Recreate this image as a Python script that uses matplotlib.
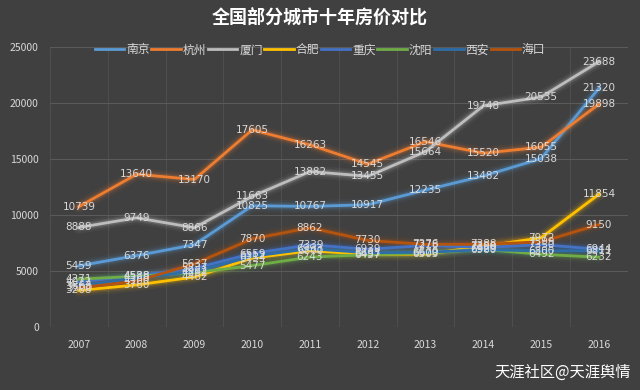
import numpy as np
import matplotlib.pyplot as plt

plt.rcParams['font.family'] = ['Noto Sans CJK SC', 'DejaVu Sans']

years = ['2007', '2008', '2009', '2010', '2011', '2012', '2013', '2014', '2015', '2016']
cities = ['南京', '杭州', '厦门', '合肥', '重庆', '沈阳', '西安', '海口']
colors = ['#5B9BD5', '#ED7D31', '#BDBDBD', '#FFC000', '#4472C4', '#70AD47', '#2E6DA8', '#B5540F']

nanjing = [5459, 6376, 7347, 10825, 10767, 10917, 12235, 13482, 15038, 21320]
hangzhou = [10739, 13640, 13170, 17605, 16263, 14545, 16546, 15520, 16055, 19898]
xiamen = [8888, 9749, 8866, 11663, 13882, 13455, 15664, 19748, 20535, 23688]
hefei = [3268, 3760, 4462, 6154, 6800, 6497, 6503, 7200, 7972, 11854]
chongqing = [4022, 4588, 5237, 6559, 7339, 6939, 7278, 7100, 7350, 6944]
shenyang = [4271, 4528, 4862, 5477, 6243, 6457, 6600, 6929, 6492, 6232]
xian = [3663, 4368, 4962, 6312, 6993, 6633, 6670, 6900, 6800, 6811]
haikou = [3500, 4100, 5637, 7870, 8862, 7730, 7376, 7388, 7599, 9150]

series = [nanjing, hangzhou, xiamen, hefei, chongqing, shenyang, xian, haikou]

bg = '#404040'
fig = plt.figure(figsize=(6.4, 3.9), dpi=100, facecolor=bg)
ax = fig.add_axes([0.078, 0.1615, 0.903, 0.718], facecolor=bg)

x = np.arange(len(years))
for name, vals, c in zip(cities, series, colors):
    # soft glow under the line
    for w, a in [(9, 0.06), (6, 0.1), (4, 0.18)]:
        ax.plot(x, vals, color=c, lw=w, alpha=a, solid_capstyle='round', zorder=2)
    ax.plot(x, vals, color=c, lw=2, label=name, zorder=3)

for vals in series:
    for xi, v in zip(x, vals):
        ax.text(xi, v, str(v), ha='center', va='center', fontsize=7.5,
                color='#D9D9D9', zorder=4, family='DejaVu Sans')

ax.set_xlim(-0.5, 9.5)
ax.set_ylim(0, 25000)
ax.set_yticks(range(0, 25001, 5000))
ax.set_xticks(x)
ax.set_xticklabels(years)
ax.set_xticks(np.arange(-0.5, 10, 1), minor=True)
ax.grid(axis='y', color='#5A5A5A', lw=0.8)
ax.grid(axis='x', which='minor', color='#4E4E4E', lw=0.8)
ax.tick_params(which='both', length=0, colors='#D9D9D9', labelsize=7.5)
ax.tick_params(axis='x', pad=9)
ax.tick_params(axis='y', pad=8)
for s in ax.spines.values():
    s.set_visible(False)

fig.text(0.5, 0.955, '全国部分城市十年房价对比', ha='center', va='center',
         fontsize=13, color='white', fontweight='bold')
fig.legend(loc='center', bbox_to_anchor=(0.5, 0.872), ncol=8, frameon=False,
           fontsize=8.5, labelcolor='#D9D9D9', handlelength=2.5,
           columnspacing=0.15, handletextpad=0.15)
fig.text(0.985, 0.045, '天涯社区@天涯舆情', ha='right', va='center',
         fontsize=11, color='white')

fig.savefig('out.png', dpi=100, facecolor=bg)
